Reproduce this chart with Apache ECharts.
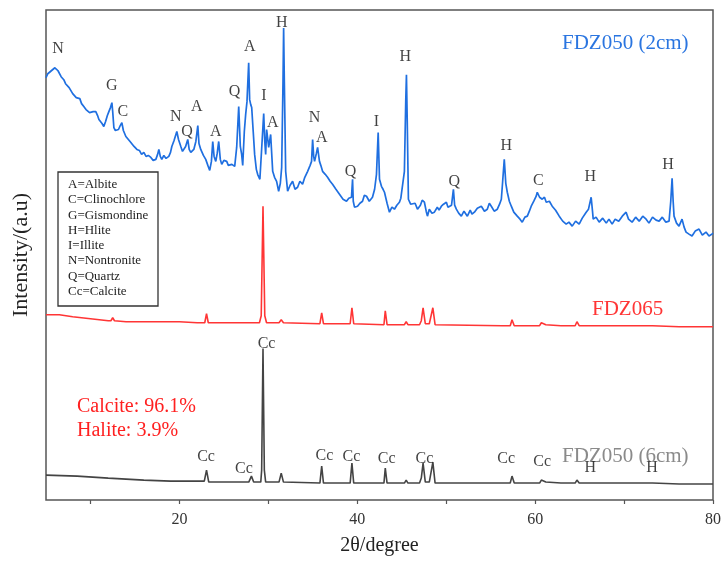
<!DOCTYPE html>
<html>
<head>
<meta charset="utf-8">
<script src="https://cdn.jsdelivr.net/npm/echarts@6/dist/echarts.min.js"></script>
<style>
  html, body { margin: 0; padding: 0; background: #fff; }
  #chart { width: 724px; height: 561px; }
</style>
</head>
<body>
<div id="chart"></div>
<script>
// XRD patterns, [2theta, intensity (a.u.)]
const fdz050_2cm = [
  [5.0,424],[5.2,428],[5.4,427],[5.6,431],[5.8,429],[6.0,434],[6.2,435],[6.35,431],[6.5,429],[6.7,425],
  [6.85,426],[7.0,422],[7.2,418],[7.4,419],[7.6,414],[7.8,412],[8.0,408],[8.2,410],[8.4,404],[8.6,402],
  [8.8,403],[9.0,398],[9.25,395],[9.5,392],[9.7,393],[9.9,389],[10.05,387],[10.3,390],[10.6,390],[10.8,386],
  [10.95,382],[11.15,383],[11.3,378],[11.5,375],[11.7,380],[11.9,386],[12.07,390],[12.25,394],[12.41,399],[12.5,390],
  [12.63,374],[12.8,371],[12.97,369],[13.15,372],[13.35,376],[13.53,379],[13.7,371],[13.98,365],[14.2,363],[14.45,360],
  [14.66,360],[14.9,355],[15.22,352],[15.5,351],[15.75,347],[16.0,349],[16.25,345],[16.5,346],[16.79,344],[17.05,341],
  [17.35,342],[17.55,347],[17.69,352],[17.85,345],[18.02,342],[18.25,346],[18.5,343],[18.81,345],[19.0,349],[19.15,355],
  [19.4,361],[19.71,370],[19.9,362],[20.16,355],[20.35,350],[20.49,349],[20.7,355],[20.94,362],[21.1,352],[21.28,349],
  [21.45,350],[21.62,352],[21.85,360],[22.07,376],[22.2,358],[22.4,352],[22.7,346],[22.96,342],[23.2,336],[23.41,331],
  [23.6,340],[23.75,360],[23.9,345],[24.09,340],[24.25,348],[24.42,360],[24.6,342],[24.76,337],[25.0,341],[25.32,340],
  [25.5,336],[25.66,334],[25.9,337],[26.22,335],[26.44,354],[26.67,395],[26.85,355],[27.0,347],[27.12,336],[27.3,370],
  [27.45,387],[27.6,400],[27.79,439],[27.9,402],[28.02,397],[28.13,394],[28.3,370],[28.46,347],[28.65,332],[28.8,327],
  [29.05,322],[29.25,324],[29.48,388],[29.6,360],[29.7,347],[29.81,372],[30.04,354],[30.26,367],[30.49,330],[30.7,324],
  [30.93,320],[31.16,310],[31.35,318],[31.5,334],[31.65,420],[31.72,474],[31.8,420],[31.95,330],[32.17,310],[32.45,316],
  [32.73,320],[33.0,312],[33.29,314],[33.55,320],[33.85,317],[34.1,324],[34.42,330],[34.7,336],[34.86,340],[34.98,362],
  [35.1,345],[35.2,340],[35.4,348],[35.54,354],[35.75,340],[35.9,336],[36.1,330],[36.4,327],[36.66,324],[36.95,320],
  [37.22,317],[37.6,312],[38.0,307],[38.4,302],[38.79,300],[39.05,303],[39.35,304],[39.47,322],[39.55,300],[39.69,294],
  [39.85,292],[40.03,295],[40.3,298],[40.59,300],[40.8,306],[41.04,305],[41.35,300],[41.71,304],[41.95,312],[42.16,327],
  [42.35,369],[42.5,322],[42.72,315],[42.9,312],[43.06,309],[43.35,298],[43.62,289],[43.9,294],[44.18,292],[44.45,296],
  [44.74,299],[44.9,303],[45.08,305],[45.3,330],[45.45,400],[45.53,427],[45.62,380],[45.75,302],[46.0,297],[46.2,295],
  [46.5,298],[46.77,292],[47.1,296],[47.3,301],[47.55,299],[47.75,290],[47.89,285],[48.1,292],[48.4,288],[48.67,289],
  [49.0,294],[49.2,291],[49.46,295],[49.7,297],[50.02,299],[50.2,294],[50.36,292],[50.6,296],[50.81,312],[50.95,296],
  [51.14,292],[51.4,288],[51.7,285],[52.0,290],[52.38,285],[52.7,291],[52.9,287],[53.17,289],[53.5,293],[53.7,291],
  [53.95,295],[54.3,290],[54.62,292],[54.85,298],[55.07,295],[55.4,290],[55.75,292],[56.0,297],[56.2,302],[56.35,320],
  [56.53,342],[56.7,318],[56.87,309],[57.1,300],[57.32,295],[57.6,289],[57.99,285],[58.3,282],[58.55,279],[58.85,284],
  [59.12,285],[59.35,290],[59.56,295],[59.85,300],[60.12,305],[60.24,309],[60.5,304],[60.8,302],[61.05,304],[61.25,299],
  [61.6,300],[61.92,295],[62.3,291],[62.71,285],[63.1,280],[63.49,277],[63.8,279],[64.17,275],[64.55,280],[64.95,277],
  [65.3,283],[65.74,289],[66.0,292],[66.3,304],[66.45,290],[66.53,282],[66.85,284],[67.2,279],[67.6,283],[68.0,278],
  [68.3,282],[68.66,277],[69.0,282],[69.4,280],[69.8,285],[70.23,289],[70.5,282],[70.9,279],[71.3,284],[71.7,280],
  [72.1,285],[72.48,282],[72.8,278],[73.2,284],[73.6,281],[73.94,280],[74.3,284],[74.7,279],[75.06,280],[75.25,300],
  [75.4,323],[75.52,300],[75.62,285],[75.9,278],[76.18,275],[76.52,282],[76.75,274],[76.97,269],[77.3,267],[77.64,265],
  [78.0,270],[78.43,272],[78.8,266],[79.21,269],[79.55,265],[79.88,267],[80.0,268]
];

const fdz065 = [
  [5.0,186],[6.5,186],[8.0,184],[10.0,182],[12.0,180],[12.3,180],[12.5,183],[12.7,180],[14.0,179],[16.0,179],
  [18.0,179],[19.5,179],[19.7,181],[20.0,179],[22.0,178],[22.85,178],[23.05,187],[23.25,178],[25.0,178],[27.5,178],
  [27.9,178],[28.1,180],[28.4,178],[29.0,178],[29.2,185],[29.4,295],[29.6,185],[29.8,178],[31.2,178],[31.45,181],
  [31.7,178],[35.8,177],[36.0,188],[36.2,177],[39.2,177],[39.4,193],[39.6,177],[43.0,176],[43.15,190],[43.35,176],
  [45.3,176],[45.5,179],[45.7,176],[47.0,176],[47.2,180],[47.4,193],[47.65,177],[48.1,177],[48.5,193],[48.75,176],
  [56.3,175],[56.5,177],[56.7,175],[57.2,175],[57.4,181],[57.65,175],[60.5,175],[60.7,178],[61.2,176],[62.9,175],
  [63.1,177],[63.3,175],[64.5,175],[64.7,179],[64.95,175],[65.5,175],[65.7,177],[65.9,175],[70.0,175],[70.2,176],
  [70.4,175],[72.8,175],[73.0,177],[73.2,175],[76.2,174],[76.4,175],[76.6,174],[80.0,174]
];

const fdz050_6cm = [
  [5.0,25],[8.5,24],[12.0,22],[16.0,20],[19.0,19],[22.8,19],[23.05,30],[23.3,18],[26.0,18],[27.8,18],
  [28.1,24],[28.35,18],[29.15,18],[29.25,30],[29.4,152],[29.55,30],[29.7,18],[31.2,18],[31.45,27],[31.7,18],
  [35.8,17],[36.0,34],[36.2,17],[39.2,17],[39.4,37],[39.6,17],[43.0,17],[43.15,32],[43.35,17],[45.3,17],
  [45.5,20],[45.7,17],[47.0,17],[47.2,22],[47.4,37],[47.65,18],[48.1,18],[48.5,38],[48.75,17],[56.3,17],
  [56.5,19],[56.7,17],[57.2,17],[57.4,24],[57.65,17],[60.5,17],[60.7,20],[61.2,18],[62.9,17],[63.1,19],
  [63.3,17],[64.5,17],[64.7,20],[64.95,17],[65.5,17],[65.7,18.5],[65.9,17],[70.0,17],[70.2,18],[70.4,17],
  [72.8,17],[73.0,18],[73.2,17],[76.2,16],[76.4,17],[76.6,16],[80.0,16]
];

// phase labels: [2theta, intensity, text]
const peakLabelsTop = [
  [6.35,453,'N'],[12.4,416,'G'],[13.65,390,'C'],[19.6,385,'N'],[20.85,370,'Q'],[21.95,395,'A'],
  [24.1,370,'A'],[26.2,410,'Q'],[27.9,455,'A'],[29.5,406,'I'],[30.5,379,'A'],[31.5,479,'H'],
  [35.2,384,'N'],[36.0,364,'A'],[39.25,330,'Q'],[42.15,380,'I'],[45.4,445,'H'],[50.9,320,'Q'],
  [56.75,356,'H'],[60.35,321,'C'],[66.2,325,'H'],[74.95,337,'H']
];
const peakLabelsBottom = [
  [29.8,157,'Cc'],[23.0,43,'Cc'],[27.25,31,'Cc'],[36.3,44,'Cc'],[39.35,43,'Cc'],[43.3,41,'Cc'],
  [47.55,41,'Cc'],[56.75,41,'Cc'],[60.8,38,'Cc'],[66.2,32,'H'],[73.15,32,'H']
];

const phaseKey = ['A=Albite','C=Clinochlore','G=Gismondine','H=Hlite','I=Illite','N=Nontronite','Q=Quartz','Cc=Calcite'];
const xTicks = [10,20,30,40,50,60,70,80];
const xLabels = [20,40,60,80];

const serif = '"Liberation Serif", "DejaVu Serif", serif';
const chart = echarts.init(document.getElementById('chart'));

const labelSeries = (data) => ({
  type: 'scatter',
  data: data,
  symbolSize: 1,
  itemStyle: { color: 'rgba(0,0,0,0)' },
  silent: true,
  z: 5,
  label: {
    show: true,
    position: 'inside',
    formatter: p => p.value[2],
    color: '#111',
    fontFamily: serif,
    fontSize: 16
  }
});

const keyGraphics = phaseKey.map((t, i) => ({
  type: 'text',
  left: 68,
  top: 178 + i * 15.3,
  style: { text: t, font: '13px ' + serif, fill: '#222' }
}));

chart.setOption({
  animation: false,
  backgroundColor: '#fff',
  grid: {
    left: 46, right: 10, top: 10, bottom: 59,
    show: true, borderColor: '#555', borderWidth: 1.5, backgroundColor: 'transparent'
  },
  xAxis: {
    type: 'value', min: 5, max: 80,
    name: '2θ/degree', nameLocation: 'middle', nameGap: 36,
    nameTextStyle: { fontFamily: serif, fontSize: 20, color: '#222' },
    axisLine: { show: false },
    axisTick: { show: true, customValues: xTicks, length: 4, lineStyle: { color: '#555', width: 1.2 } },
    axisLabel: { customValues: xLabels, margin: 12, fontFamily: serif, fontSize: 16, color: '#333' },
    splitLine: { show: false }
  },
  yAxis: {
    type: 'value', min: 0, max: 492,
    name: 'Intensity/(a.u)', nameLocation: 'middle', nameGap: 14,
    nameTextStyle: { fontFamily: serif, fontSize: 22, color: '#222' },
    axisLine: { show: false }, axisTick: { show: false },
    axisLabel: { show: false }, splitLine: { show: false }
  },
  series: [
    { type: 'line', data: fdz050_2cm, showSymbol: false, lineStyle: { color: '#1f6fe0', width: 1.7 }, silent: true },
    { type: 'line', data: fdz065, showSymbol: false, lineStyle: { color: '#ff3535', width: 1.6 }, silent: true },
    { type: 'line', data: fdz050_6cm, showSymbol: false, lineStyle: { color: '#444', width: 1.6 }, silent: true },
    labelSeries(peakLabelsTop),
    labelSeries(peakLabelsBottom)
  ],
  graphic: [
    { type: 'rect', shape: { x: 58, y: 172, width: 100, height: 134 },
      style: { fill: '#fff', stroke: '#333', lineWidth: 1.3 }, z: 10 },
    ...keyGraphics.map(g => Object.assign(g, { z: 11 })),
    { type: 'text', left: 562, top: 33, style: { text: 'FDZ050 (2cm)', font: '21px ' + serif, fill: '#2a75e0' } },
    { type: 'text', left: 592, top: 299, style: { text: 'FDZ065', font: '21px ' + serif, fill: '#ff3535' } },
    { type: 'text', left: 562, top: 446, style: { text: 'FDZ050 (6cm)', font: '21px ' + serif, fill: '#8a8a8a' } },
    { type: 'text', left: 77, top: 397, style: { text: 'Calcite: 96.1%', font: '20px ' + serif, fill: '#ff2020' } },
    { type: 'text', left: 77, top: 421, style: { text: 'Halite: 3.9%', font: '20px ' + serif, fill: '#ff2020' } }
  ]
});
</script>
</body>
</html>
